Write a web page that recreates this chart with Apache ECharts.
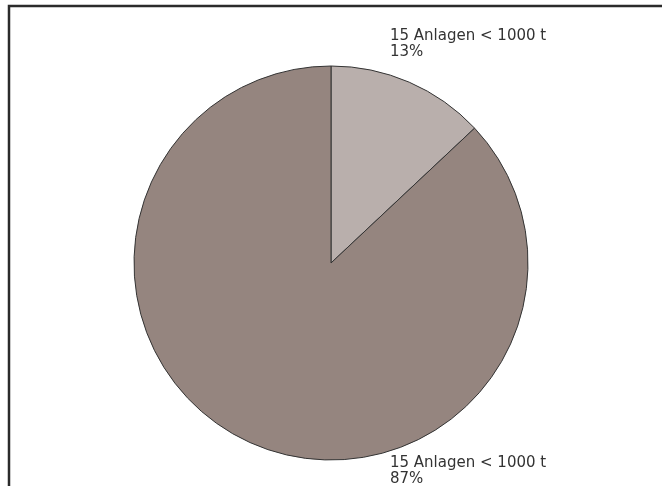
<!DOCTYPE html>
<html><head><meta charset="utf-8">
<script src="https://cdn.jsdelivr.net/npm/echarts@6/dist/echarts.min.js"></script>
<style>html,body{margin:0;padding:0;background:#fff}#c{width:662px;height:486px}</style>
</head><body><div id="c"></div>
<script>
const categories = ['15 Anlagen < 1000 t', '15 Anlagen < 1000 t'];
const values = [13, 87];
const colors = ['#b9afac', '#95857f'];
const labelPos = [[390, 28], [390, 455]];

const chart = echarts.init(document.getElementById('c'));
chart.setOption({
  animation: false,
  graphic: [{
    type: 'rect', shape: { x: 9, y: 6, width: 700, height: 520 },
    style: { fill: 'none', stroke: '#2b2b2b', lineWidth: 2.5 }, silent: true
  }],
  series: [{
    type: 'pie',
    center: [331, 263],
    radius: 197,
    startAngle: 90,
    clockwise: true,
    data: categories.map((n, i) => ({ name: n, value: values[i], itemStyle: { color: colors[i] } })),
    itemStyle: { borderColor: '#333', borderWidth: 1 },
    label: {
      show: true, formatter: '{b}\n{c}%', color: '#333', fontSize: 15,
      fontFamily: 'DejaVu Sans', lineHeight: 16, align: 'left'
    },
    labelLine: { show: false },
    labelLayout: function (p) {
      const pos = labelPos[p.dataIndex];
      return { x: pos[0], y: pos[1], align: 'left', verticalAlign: 'top' };
    },
    emphasis: { disabled: true }
  }]
});
</script></body></html>
